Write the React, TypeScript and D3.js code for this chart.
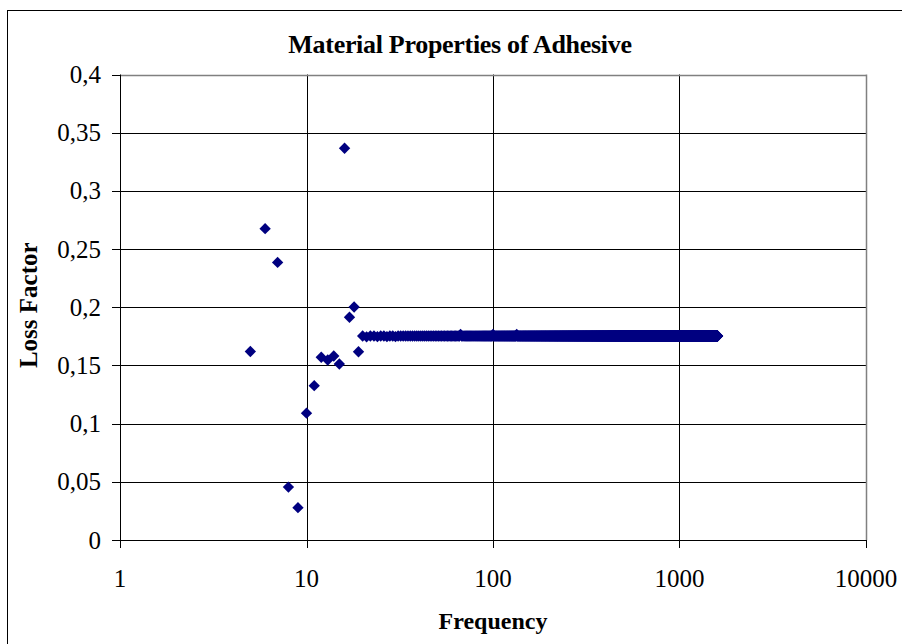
import React from "react";
import * as d3 from "d3";

// Loss factor of the adhesive sample, low-frequency region (Hz)
const lowFrequencies = [5, 6, 7, 8, 9, 10, 11, 12, 13, 14, 15, 16, 17, 18, 19];
const lowLossFactors = [
  0.162, 0.2675, 0.2385, 0.0455, 0.0278, 0.109, 0.1326, 0.157, 0.1547, 0.1581,
  0.1512, 0.3366, 0.1914, 0.2002, 0.1618,
];

// Plateau: measured every 1 Hz from 20 Hz to 1600 Hz at a steady level,
// with a handful of readings that stray slightly from it
const plateauStart = 20;
const plateauEnd = 1600;
const plateauLevel = 0.1753;
const plateauOffFreqs = [21, 24, 27, 30, 67, 100, 134];
const plateauOffValues = [0.1746, 0.1747, 0.1747, 0.1748, 0.1766, 0.1766, 0.1766];

const xTickValues = [1, 10, 100, 1000, 10000];
const yTickValues = [0, 0.05, 0.1, 0.15, 0.2, 0.25, 0.3, 0.35, 0.4];

const titleText = "Material Properties of Adhesive";
const xTitle = "Frequency";
const yTitle = "Loss Factor";

const W = 902;
const H = 644;
const plot = { left: 120, right: 866, top: 74.5, bottom: 540 };

export default function App() {
  const x = d3.scaleLog().domain([1, 10000]).range([plot.left, plot.right]);
  const y = d3.scaleLinear().domain([0, 0.4]).range([plot.bottom, plot.top]);

  const offMap = new Map(plateauOffFreqs.map((f, i) => [f, plateauOffValues[i]]));
  const points: [number, number][] = [];
  lowFrequencies.forEach((f, i) => points.push([f, lowLossFactors[i]]));
  d3.range(plateauStart, plateauEnd + 1).forEach((f) =>
    points.push([f, offMap.has(f) ? (offMap.get(f) as number) : plateauLevel])
  );

  const diamond = d3.symbol().type(d3.symbolDiamond2).size(82)() as string;
  const fmt = (v: number) => String(+v.toFixed(2)).replace(".", ",");
  const font = "'Liberation Serif', 'Times New Roman', serif";

  return (
    <svg
      width={W}
      height={H}
      style={{ position: "absolute", left: 0, top: 0, background: "#fff" }}
      fontFamily={font}
    >
      <rect x={7.5} y={10.5} width={W + 20} height={H + 20} fill="#fff" stroke="#000" strokeWidth={1} />

      {/* gridlines */}
      {yTickValues.slice(1, -1).map((v) => (
        <line key={"gy" + v} x1={plot.left} x2={plot.right} y1={Math.round(y(v)) + 0.5} y2={Math.round(y(v)) + 0.5} stroke="#000" />
      ))}
      {xTickValues.slice(1, -1).map((v) => (
        <line key={"gx" + v} y1={plot.top} y2={plot.bottom} x1={Math.round(x(v)) + 0.5} x2={Math.round(x(v)) + 0.5} stroke="#000" />
      ))}
      {/* plot frame */}
      <line x1={plot.left} x2={plot.right} y1={Math.round(plot.top) + 0.5} y2={Math.round(plot.top) + 0.5} stroke="#808080" strokeWidth={1.5} />
      <line x1={Math.round(plot.right) + 0.5} x2={Math.round(plot.right) + 0.5} y1={plot.top} y2={plot.bottom} stroke="#808080" strokeWidth={1.5} />

      {/* axes */}
      <line x1={plot.left + 0.5} x2={plot.left + 0.5} y1={plot.top} y2={plot.bottom} stroke="#000" />
      <line x1={plot.left} x2={plot.right} y1={plot.bottom + 0.5} y2={plot.bottom + 0.5} stroke="#000" strokeWidth={1.2} />
      {yTickValues.map((v) => (
        <g key={"ty" + v}>
          <line x1={plot.left - 8} x2={plot.left} y1={Math.round(y(v)) + 0.5} y2={Math.round(y(v)) + 0.5} stroke="#000" />
          <text x={101} y={y(v) + 8.5} textAnchor="end" fontSize={25}>
            {fmt(v)}
          </text>
        </g>
      ))}
      {xTickValues.map((v) => (
        <g key={"tx" + v}>
          <line x1={Math.round(x(v)) + 0.5} x2={Math.round(x(v)) + 0.5} y1={plot.bottom} y2={plot.bottom + 8} stroke="#000" />
          <text x={x(v)} y={587} textAnchor="middle" fontSize={25}>
            {v}
          </text>
        </g>
      ))}

      {/* markers */}
      <g fill="#000080">
        {points.map(([f, v], i) => (
          <path key={i} d={diamond} transform={`translate(${x(f)},${y(v)})`} />
        ))}
      </g>

      {/* titles */}
      <text x={460} y={53} textAnchor="middle" fontSize={26} fontWeight="bold" letterSpacing={-0.3}>
        {titleText}
      </text>
      <text x={493} y={629} textAnchor="middle" fontSize={24} fontWeight="bold">
        {xTitle}
      </text>
      <text transform={`translate(37,${(plot.top + plot.bottom) / 2 - 2}) rotate(-90)`} textAnchor="middle" fontSize={25} fontWeight="bold">
        {yTitle}
      </text>
    </svg>
  );
}
